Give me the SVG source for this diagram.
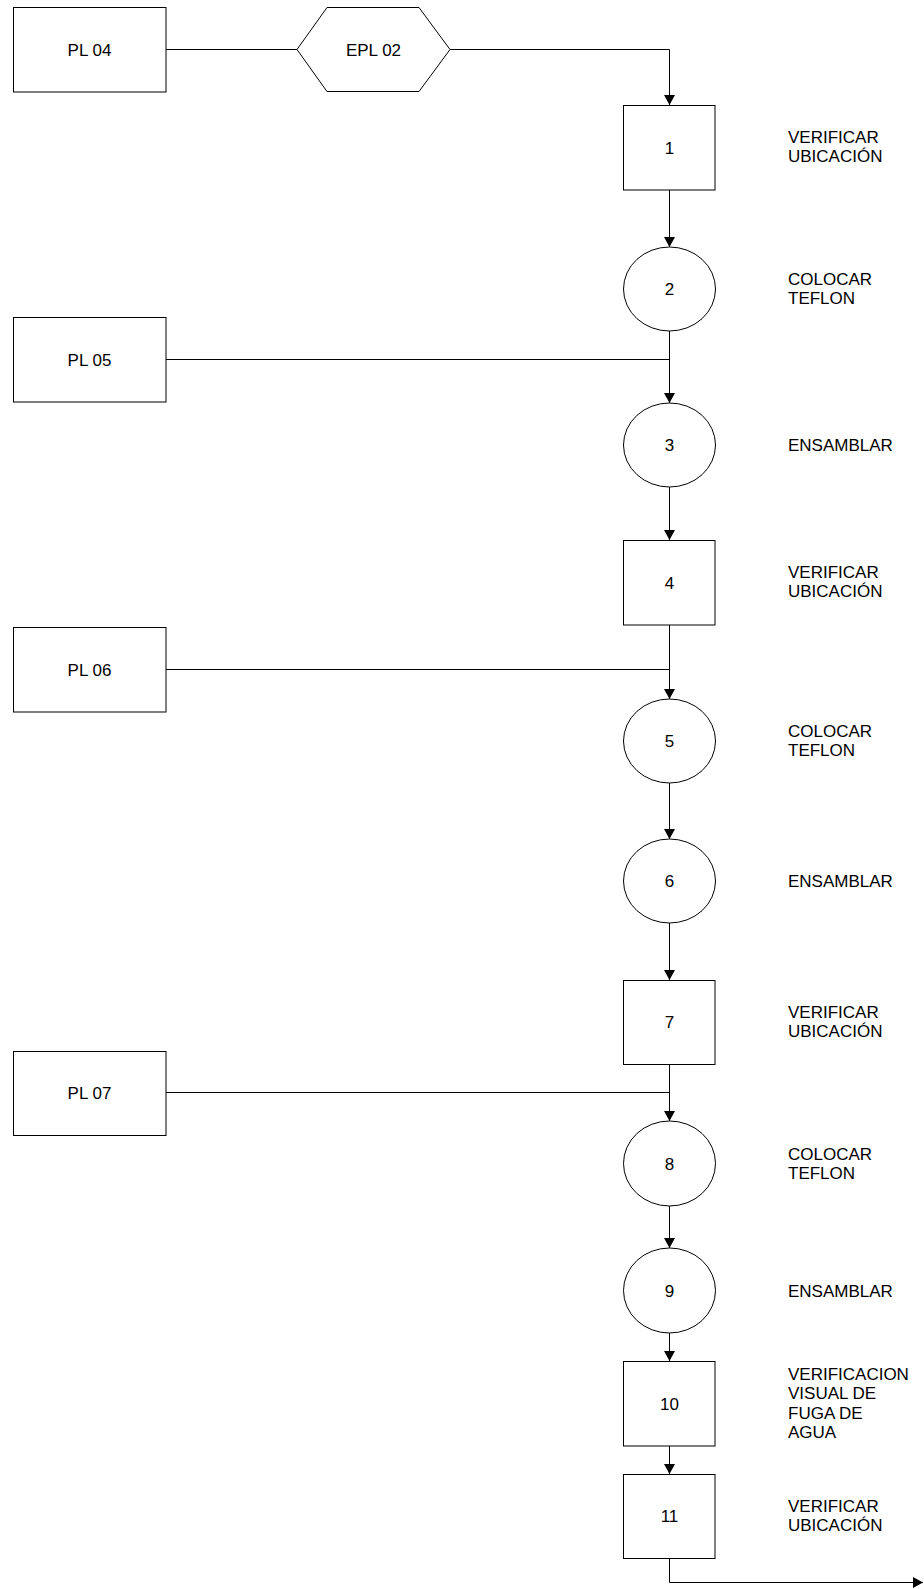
<svg xmlns="http://www.w3.org/2000/svg" width="924" height="1589" viewBox="0 0 924 1589">
<defs>
<style>
.n{fill:#fff;stroke:#000;stroke-width:1}
.t{font-family:"Liberation Sans",Arial,sans-serif;font-size:17px;fill:#000}
.c{text-anchor:middle}
.e{fill:none;stroke:#000;stroke-width:1}
</style>
<marker id="ah" viewBox="0 0 10 11" refX="10" refY="5.5" markerWidth="10" markerHeight="11" markerUnits="userSpaceOnUse" orient="auto"><path d="M0,0 L10,5.5 L0,11 Z" fill="#000"/></marker>
</defs>
<rect width="924" height="1589" fill="#fff"/>
<g id="connectors">
<path class="e" d="M166,49.5 H297"/>
<path class="e" d="M450,49.5 H669.5 V105" marker-end="url(#ah)"/>
<path class="e" d="M669.5,190 V247" marker-end="url(#ah)"/>
<path class="e" d="M669.5,331 V403" marker-end="url(#ah)"/>
<path class="e" d="M166,359.5 H669.5"/>
<path class="e" d="M669.5,487 V540" marker-end="url(#ah)"/>
<path class="e" d="M669.5,625 V699" marker-end="url(#ah)"/>
<path class="e" d="M166,669.5 H669.5"/>
<path class="e" d="M669.5,783 V839" marker-end="url(#ah)"/>
<path class="e" d="M669.5,923 V980" marker-end="url(#ah)"/>
<path class="e" d="M669.5,1064 V1121" marker-end="url(#ah)"/>
<path class="e" d="M166,1092.5 H669.5"/>
<path class="e" d="M669.5,1206 V1248" marker-end="url(#ah)"/>
<path class="e" d="M669.5,1333 V1361" marker-end="url(#ah)"/>
<path class="e" d="M669.5,1446 V1474" marker-end="url(#ah)"/>
<path class="e" d="M669.5,1558 V1582.5 H923" marker-end="url(#ah)"/>
</g>
<g id="pl04"><rect class="n" x="13.5" y="7.5" width="152.5" height="84.5"/><text class="t c" x="89.5" y="55.5">PL 04</text></g>
<g id="epl02"><polygon class="n" points="297,49.5 327,7.5 419,7.5 450,49.5 419,91.5 327,91.5"/><text class="t c" x="373.5" y="55.5">EPL 02</text></g>
<g id="pl05"><rect class="n" x="13.5" y="317.5" width="152.5" height="84.5"/><text class="t c" x="89.5" y="365.5">PL 05</text></g>
<g id="pl06"><rect class="n" x="13.5" y="627.5" width="152.5" height="84.5"/><text class="t c" x="89.5" y="675.5">PL 06</text></g>
<g id="pl07"><rect class="n" x="13.5" y="1051.5" width="152.5" height="84"/><text class="t c" x="89.5" y="1099">PL 07</text></g>
<g id="n1"><rect class="n" x="623.5" y="105.5" width="91.5" height="84.5"/><text class="t c" x="669.5" y="153.5">1</text>
<text class="t" x="788" y="143">VERIFICAR</text><text class="t" x="788" y="162">UBICACIÓN</text></g>
<g id="n2"><ellipse class="n" cx="669.5" cy="289" rx="46" ry="42"/><text class="t c" x="669.5" y="295">2</text>
<text class="t" x="788" y="285">COLOCAR</text><text class="t" x="788" y="304">TEFLON</text></g>
<g id="n3"><ellipse class="n" cx="669.5" cy="445" rx="46" ry="42"/><text class="t c" x="669.5" y="451">3</text>
<text class="t" x="788" y="451">ENSAMBLAR</text></g>
<g id="n4"><rect class="n" x="623.5" y="540.5" width="91.5" height="84.5"/><text class="t c" x="669.5" y="588.5">4</text>
<text class="t" x="788" y="578">VERIFICAR</text><text class="t" x="788" y="597">UBICACIÓN</text></g>
<g id="n5"><ellipse class="n" cx="669.5" cy="741" rx="46" ry="42"/><text class="t c" x="669.5" y="747">5</text>
<text class="t" x="788" y="737">COLOCAR</text><text class="t" x="788" y="756">TEFLON</text></g>
<g id="n6"><ellipse class="n" cx="669.5" cy="881" rx="46" ry="42"/><text class="t c" x="669.5" y="887">6</text>
<text class="t" x="788" y="887">ENSAMBLAR</text></g>
<g id="n7"><rect class="n" x="623.5" y="980.5" width="91.5" height="84"/><text class="t c" x="669.5" y="1028">7</text>
<text class="t" x="788" y="1018">VERIFICAR</text><text class="t" x="788" y="1037">UBICACIÓN</text></g>
<g id="n8"><ellipse class="n" cx="669.5" cy="1163.5" rx="46" ry="42.5"/><text class="t c" x="669.5" y="1169.5">8</text>
<text class="t" x="788" y="1159.5">COLOCAR</text><text class="t" x="788" y="1178.5">TEFLON</text></g>
<g id="n9"><ellipse class="n" cx="669.5" cy="1290.5" rx="46" ry="42.5"/><text class="t c" x="669.5" y="1296.5">9</text>
<text class="t" x="788" y="1296.5">ENSAMBLAR</text></g>
<g id="n10"><rect class="n" x="623.5" y="1361.5" width="91.5" height="84.5"/><text class="t c" x="669.5" y="1409.5">10</text>
<text class="t" x="788" y="1379.5">VERIFICACION</text><text class="t" x="788" y="1399">VISUAL DE</text><text class="t" x="788" y="1418.5">FUGA DE</text><text class="t" x="788" y="1438">AGUA</text></g>
<g id="n11"><rect class="n" x="623.5" y="1474.5" width="91.5" height="84"/><text class="t c" x="669.5" y="1522">11</text>
<text class="t" x="788" y="1512">VERIFICAR</text><text class="t" x="788" y="1531">UBICACIÓN</text></g>
</svg>
